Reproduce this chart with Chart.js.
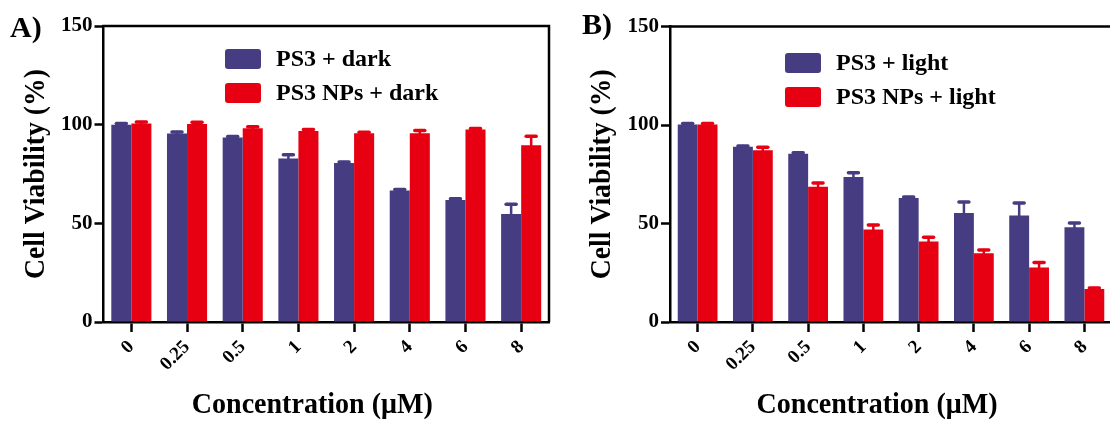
<!DOCTYPE html>
<html><head><meta charset="utf-8">
<script src="https://cdn.jsdelivr.net/npm/chart.js@4.4.0/dist/chart.umd.min.js"></script>
<style>
html,body{margin:0;padding:0;background:#fff;overflow:hidden;width:1110px;height:423px;}
#wrap{position:relative;width:1110px;height:423px;overflow:hidden;background:#fff;}
#ca{position:absolute;left:0;top:0;}
#cb{position:absolute;left:555px;top:0;}
</style></head><body>
<div id="wrap"><canvas id="ca" width="555" height="423"></canvas><canvas id="cb" width="565" height="423"></canvas></div>
<script>
const categories = ['0','0.25','0.5','1','2','4','6','8'];
const yTicks = [0, 50, 100, 150];
// Panel A (dark)
const darkPS3     = [100.0, 95.5, 93.5, 82.8, 80.6, 66.6, 61.8, 54.7];
const darkPS3Err  = [0.6, 0.8, 0.5, 2.0, 0.5, 0.5, 0.6, 5.0];
const darkNP      = [100.6, 100.4, 98.2, 96.8, 95.6, 95.6, 97.5, 89.6];
const darkNPErr   = [0.8, 0.8, 0.8, 0.8, 0.5, 1.5, 0.5, 4.5];
// Panel B (light)
const lightPS3    = [100.2, 88.9, 85.4, 73.6, 63.0, 55.3, 54.0, 48.1];
const lightPS3Err = [0.5, 0.5, 0.5, 2.2, 0.5, 5.6, 6.4, 2.1];
const lightNP     = [100.2, 87.2, 68.6, 47.0, 40.8, 34.9, 27.7, 16.8];
const lightNPErr  = [0.6, 1.5, 1.9, 2.3, 2.2, 1.7, 2.5, 0.4];

const BLUE = '#463c82';
const RED = '#e60012';
const FONT = 'Liberation Serif';

const framePlugin = {
  id: 'frame',
  afterDraw(chart) {
    const {ctx, chartArea: a} = chart;
    ctx.save();
    ctx.strokeStyle = '#000';
    ctx.lineWidth = 2.5;
    ctx.beginPath();
    ctx.moveTo(a.left - 1.25, a.top);
    ctx.lineTo(a.right, a.top);
    ctx.lineTo(a.right, a.bottom);
    ctx.stroke();
    ctx.restore();
  }
};

const errorBarPlugin = {
  id: 'errbars',
  afterDatasetsDraw(chart) {
    const {ctx} = chart;
    const ys = chart.scales.y;
    chart.data.datasets.forEach((ds, i) => {
      const meta = chart.getDatasetMeta(i);
      meta.data.forEach((el, j) => {
        const top = ys.getPixelForValue(ds.data[j] + ds.errors[j]);
        ctx.save();
        ctx.strokeStyle = ds.backgroundColor;
        ctx.lineCap = 'round';
        ctx.lineWidth = 2.5;
        ctx.beginPath();
        ctx.moveTo(el.x, el.y);
        ctx.lineTo(el.x, top);
        ctx.stroke();
        ctx.lineWidth = 3.5;
        ctx.beginPath();
        ctx.moveTo(el.x - 5, top);
        ctx.lineTo(el.x + 5, top);
        ctx.stroke();
        ctx.restore();
      });
    });
  }
};

const decorPlugin = {
  id: 'decor',
  afterDraw(chart, args, opts) {
    const {ctx, chartArea: a} = chart;
    ctx.save();
    ctx.fillStyle = '#000';
    // legend
    chart.data.datasets.forEach((ds, i) => {
      const y = opts.legendY + i * opts.legendGap;
      ctx.fillStyle = ds.backgroundColor;
      ctx.beginPath();
      ctx.roundRect(opts.legendX, y, 36, 20, 3);
      ctx.fill();
      ctx.fillStyle = '#000';
      ctx.font = 'bold 24px "' + FONT + '"';
      ctx.textAlign = 'left';
      ctx.textBaseline = 'middle';
      ctx.fillText(ds.label, opts.legendX + 51, y + 11);
    });
    // panel letter
    ctx.font = 'bold 30px "' + FONT + '"';
    ctx.textAlign = 'left';
    ctx.textBaseline = 'alphabetic';
    ctx.fillText(opts.letter, opts.letterX, opts.letterY);
    // x title (condensed)
    ctx.font = 'bold 30px "' + FONT + '"';
    let w = ctx.measureText(opts.xTitle).width;
    let sx = 241 / w;
    ctx.save();
    ctx.translate((a.left + a.right) / 2 - 14, 413);
    ctx.scale(sx, 1);
    ctx.textAlign = 'center';
    ctx.fillText(opts.xTitle, 0, 0);
    ctx.restore();
    // y title
    w = ctx.measureText(opts.yTitle).width;
    sx = 210 / w;
    ctx.save();
    ctx.translate(a.left - 60, (a.top + a.bottom) / 2);
    ctx.rotate(-Math.PI / 2);
    ctx.scale(sx, 1);
    ctx.textAlign = 'center';
    ctx.textBaseline = 'alphabetic';
    ctx.fillText(opts.yTitle, 0, 0);
    ctx.restore();
    ctx.restore();
  }
};

function makeChart(id, labels, s1, e1, s2, e2, names, yWidth, padRight, padTop, deco) {
  return new Chart(document.getElementById(id), {
    type: 'bar',
    data: {
      labels: labels,
      datasets: [
        {label: names[0], data: s1, errors: e1, backgroundColor: BLUE, borderWidth: 0, categoryPercentage: 0.72, barPercentage: 1.0},
        {label: names[1], data: s2, errors: e2, backgroundColor: RED, borderWidth: 0, categoryPercentage: 0.72, barPercentage: 1.0}
      ]
    },
    options: {
      responsive: false,
      animation: false,
      layout: {padding: {left: 0, right: padRight, top: padTop, bottom: 0}},
      plugins: {legend: {display: false}, tooltip: {enabled: false}, decor: deco},
      scales: {
        x: {
          offset: true,
          grid: {display: true, drawOnChartArea: false, offset: false, tickLength: 10, tickWidth: 2.5, tickColor: '#000', color: '#000'},
          border: {display: true, color: '#000', width: 2.5},
          ticks: {color: '#000', font: {family: FONT, weight: 'bold', size: 19}, minRotation: 45, maxRotation: 45, padding: 4, autoSkip: false},
          afterFit(s) { s.height = 101; }
        },
        y: {
          min: 0, max: 150,
          afterBuildTicks(s) { s.ticks = yTicks.map(v => ({value: v})); },
          grid: {display: true, drawOnChartArea: false, tickLength: 9, tickWidth: 2.5, tickColor: '#000', color: '#000'},
          border: {display: true, color: '#000', width: 2.5},
          ticks: {color: '#000', font: {family: FONT, weight: 'bold', size: 21}, padding: 2},
          afterFit(s) { s.width = yWidth; }
        }
      }
    },
    plugins: [framePlugin, errorBarPlugin, decorPlugin]
  });
}

makeChart('ca', categories, darkPS3, darkPS3Err, darkNP, darkNPErr,
  ['PS3 + dark', 'PS3 NPs + dark'], 103.5, 6, 26,
  {legendX: 225, legendY: 49, legendGap: 34, letter: 'A)', letterX: 10, letterY: 37,
   xTitle: 'Concentration (\u03bcM)', yTitle: 'Cell Viability (%)'});

makeChart('cb', categories, lightPS3, lightPS3Err, lightNP, lightNPErr,
  ['PS3 + light', 'PS3 NPs + light'], 115, 8, 26.5,
  {legendX: 230, legendY: 53, legendGap: 34, letter: 'B)', letterX: 27, letterY: 34,
   xTitle: 'Concentration (\u03bcM)', yTitle: 'Cell Viability (%)'});
</script>
</body></html>
